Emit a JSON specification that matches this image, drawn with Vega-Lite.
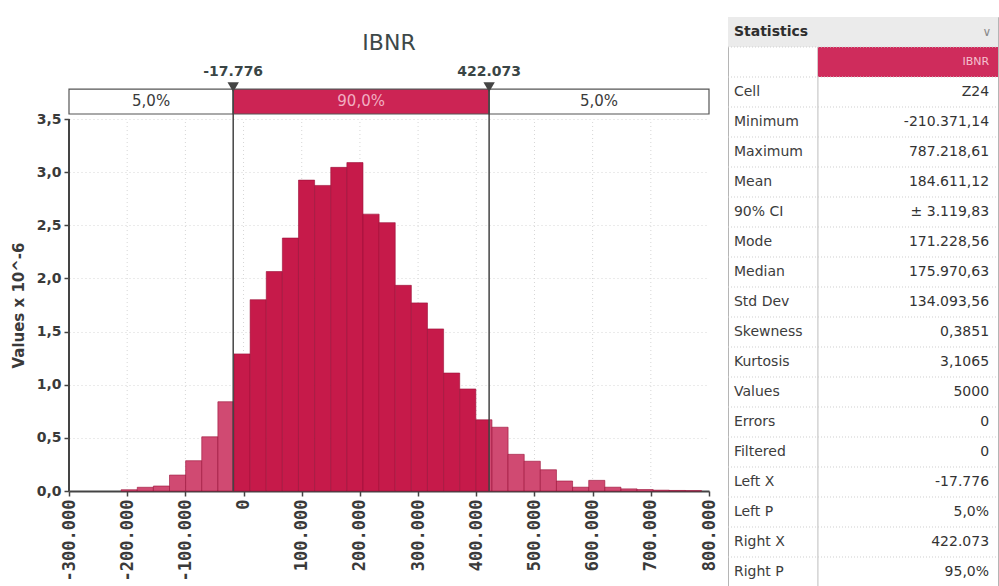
{
  "$schema": "https://vega.github.io/schema/vega-lite/v6.json",
  "padding": {"left": 11, "top": 16, "right": 2, "bottom": 0},
  "spacing": 10,
  "config": {
    "view": {"stroke": null},
    "font": "DejaVu Sans",
    "locale": {"number": {"decimal": ",", "thousands": ".", "grouping": [3], "currency": ["", " €"], "minus": "-"}}
  },
  "hconcat": [
    {
      "width": 640,
      "height": 474,
      "layer": [
        {
          "data": {"values": [{"g": -200000}, {"g": -100000}, {"g": 0}, {"g": 100000}, {"g": 200000}, {"g": 300000}, {"g": 400000}, {"g": 500000}, {"g": 600000}, {"g": 700000}]},
          "mark": {"type": "rule", "color": "#d6d6d6", "strokeDash": [1, 3], "strokeWidth": 1},
          "encoding": {
            "x": {
              "field": "g", "type": "quantitative",
              "scale": {"domain": [-300000, 800000], "nice": false, "zero": false},
              "axis": {
                "values": [-300000, -200000, -100000, 0, 100000, 200000, 300000, 400000, 500000, 600000, 700000, 800000],
                "format": ",.0f", "labelAngle": -90, "labelFont": "DejaVu Sans Mono", "labelFontWeight": "bold",
                "labelFontSize": 17, "labelColor": "#3a3a3a", "labelPadding": 3, "labelOverlap": false,
                "labelFlush": false, "labelBound": false,
                "tickSize": 5, "tickColor": "#444444", "tickWidth": 1.5,
                "domainColor": "#444444", "domainWidth": 2, "grid": false, "title": null
              }
            },
            "y": {
              "datum": 0, "type": "quantitative",
              "scale": {"domain": [0, 4.4597], "nice": false, "zero": true},
              "axis": {
                "values": [0, 0.5, 1, 1.5, 2, 2.5, 3, 3.5], "format": ".1f",
                "labelFont": "DejaVu Sans", "labelFontWeight": "bold", "labelFontSize": 14, "labelColor": "#3a3a3a",
                "labelPadding": 3, "tickSize": 5, "tickColor": "#444444", "tickWidth": 1.5, "domain": false,
                "grid": true, "gridColor": "#d6d6d6", "gridDash": [1, 3],
                "title": "Values x 10^-6", "titleFont": "DejaVu Sans", "titleFontSize": 15, "titleFontWeight": "bold",
                "titleColor": "#3a3a3a", "titleX": -43, "titleY": 288
              }
            },
            "y2": {"datum": 3.5}
          }
        },
        {
          "data": {"values": [
            {"x0": -210371, "x1": -182660, "v": 0.012, "zone": "out"},
            {"x0": -182660, "x1": -154949, "v": 0.035, "zone": "out"},
            {"x0": -154949, "x1": -127239, "v": 0.047, "zone": "out"},
            {"x0": -127239, "x1": -99528, "v": 0.15, "zone": "out"},
            {"x0": -99528, "x1": -71817, "v": 0.285, "zone": "out"},
            {"x0": -71817, "x1": -44106, "v": 0.51, "zone": "out"},
            {"x0": -44106, "x1": -17776, "v": 0.84, "zone": "out"},
            {"x0": -17776, "x1": -16396, "v": 0.84, "zone": "in"},
            {"x0": -16396, "x1": 11315, "v": 1.29, "zone": "in"},
            {"x0": 11315, "x1": 39026, "v": 1.80, "zone": "in"},
            {"x0": 39026, "x1": 66737, "v": 2.065, "zone": "in"},
            {"x0": 66737, "x1": 94448, "v": 2.38, "zone": "in"},
            {"x0": 94448, "x1": 122159, "v": 2.925, "zone": "in"},
            {"x0": 122159, "x1": 149869, "v": 2.875, "zone": "in"},
            {"x0": 149869, "x1": 177580, "v": 3.045, "zone": "in"},
            {"x0": 177580, "x1": 205291, "v": 3.09, "zone": "in"},
            {"x0": 205291, "x1": 233002, "v": 2.605, "zone": "in"},
            {"x0": 233002, "x1": 260713, "v": 2.525, "zone": "in"},
            {"x0": 260713, "x1": 288424, "v": 1.935, "zone": "in"},
            {"x0": 288424, "x1": 316134, "v": 1.77, "zone": "in"},
            {"x0": 316134, "x1": 343845, "v": 1.525, "zone": "in"},
            {"x0": 343845, "x1": 371556, "v": 1.11, "zone": "in"},
            {"x0": 371556, "x1": 399267, "v": 0.96, "zone": "in"},
            {"x0": 399267, "x1": 422073, "v": 0.67, "zone": "in"},
            {"x0": 422073, "x1": 426978, "v": 0.67, "zone": "out"},
            {"x0": 426978, "x1": 454689, "v": 0.60, "zone": "out"},
            {"x0": 454689, "x1": 482399, "v": 0.345, "zone": "out"},
            {"x0": 482399, "x1": 510110, "v": 0.28, "zone": "out"},
            {"x0": 510110, "x1": 537821, "v": 0.20, "zone": "out"},
            {"x0": 537821, "x1": 565532, "v": 0.094, "zone": "out"},
            {"x0": 565532, "x1": 593243, "v": 0.036, "zone": "out"},
            {"x0": 593243, "x1": 620954, "v": 0.10, "zone": "out"},
            {"x0": 620954, "x1": 648664, "v": 0.036, "zone": "out"},
            {"x0": 648664, "x1": 676375, "v": 0.02, "zone": "out"},
            {"x0": 676375, "x1": 704086, "v": 0.014, "zone": "out"},
            {"x0": 704086, "x1": 731797, "v": 0.008, "zone": "out"},
            {"x0": 731797, "x1": 759508, "v": 0.005, "zone": "out"},
            {"x0": 759508, "x1": 787219, "v": 0.003, "zone": "out"}
          ]},
          "mark": {"type": "rect", "stroke": "#9a0f37", "strokeWidth": 0.6},
          "encoding": {
            "x": {"field": "x0", "type": "quantitative"},
            "x2": {"field": "x1"},
            "y": {"field": "v", "type": "quantitative"},
            "y2": {"datum": 0},
            "fill": {"field": "zone", "type": "nominal", "scale": {"domain": ["in", "out"], "range": ["#c61a4a", "#d04a72"]}, "legend": null}
          }
        },
        {
          "data": {"values": [{"axis": "y"}]},
          "mark": {"type": "rule", "color": "#444444", "strokeWidth": 2},
          "encoding": {
            "x": {"datum": -300000, "type": "quantitative"},
            "y": {"datum": 0, "type": "quantitative"},
            "y2": {"datum": 3.5}
          }
        },
        {
          "data": {"values": [
            {"x0": -300000, "x1": -17776, "mid": -158888, "pct": "5,0%", "seg": "out"},
            {"x0": -17776, "x1": 422073, "mid": 202148, "pct": "90,0%", "seg": "in"},
            {"x0": 422073, "x1": 800000, "mid": 611036, "pct": "5,0%", "seg": "out"}
          ]},
          "layer": [
            {
              "mark": {"type": "rect", "stroke": "#555555", "strokeWidth": 1.2},
              "encoding": {
                "x": {"field": "x0", "type": "quantitative"},
                "x2": {"field": "x1"},
                "y": {"datum": 3.547, "type": "quantitative"},
                "y2": {"datum": 3.782},
                "fill": {"condition": {"test": "datum.seg === 'in'", "value": "#cc2454"}, "value": "#ffffff"}
              }
            },
            {
              "mark": {"type": "text", "fontSize": 15, "baseline": "middle", "align": "center"},
              "encoding": {
                "x": {"field": "mid", "type": "quantitative"},
                "y": {"datum": 3.665, "type": "quantitative"},
                "text": {"field": "pct", "type": "nominal"},
                "fill": {"condition": {"test": "datum.seg === 'in'", "value": "#f2aec2"}, "value": "#3a3a3a"}
              }
            }
          ]
        },
        {
          "data": {"values": [{"cx": -17776}, {"cx": 422073}]},
          "layer": [
            {
              "mark": {"type": "rule", "color": "#444444", "strokeWidth": 1.5},
              "encoding": {
                "x": {"field": "cx", "type": "quantitative"},
                "y": {"datum": 0, "type": "quantitative"},
                "y2": {"datum": 3.782}
              }
            },
            {
              "mark": {"type": "point", "shape": "triangle-down", "filled": true, "color": "#444444", "size": 130, "opacity": 1},
              "encoding": {
                "x": {"field": "cx", "type": "quantitative"},
                "y": {"datum": 3.80, "type": "quantitative"}
              }
            },
            {
              "mark": {"type": "text", "fontSize": 14, "fontWeight": "bold", "color": "#3a4545", "baseline": "middle", "align": "center"},
              "encoding": {
                "x": {"field": "cx", "type": "quantitative"},
                "y": {"datum": 3.942, "type": "quantitative"},
                "text": {"field": "cx", "type": "quantitative", "format": ",.0f"}
              }
            }
          ]
        },
        {
          "data": {"values": [{"t": "IBNR"}]},
          "mark": {"type": "text", "fontSize": 22, "color": "#3d4848", "baseline": "middle", "align": "center"},
          "encoding": {
            "x": {"datum": 250000, "type": "quantitative"},
            "y": {"datum": 4.215, "type": "quantitative"},
            "text": {"field": "t", "type": "nominal"}
          }
        }
      ]
    },
    {
      "width": 270,
      "height": 570,
      "view": {"stroke": "#b5b5b5", "strokeWidth": 1},
      "data": {"values": [
        {"stat": "Statistics", "label": "Statistics", "value": "∨", "kind": "head"},
        {"stat": "Name", "label": "", "value": "IBNR", "kind": "name"},
        {"stat": "Cell", "label": "Cell", "value": "Z24", "kind": "row"},
        {"stat": "Minimum", "label": "Minimum", "value": "-210.371,14", "kind": "row"},
        {"stat": "Maximum", "label": "Maximum", "value": "787.218,61", "kind": "row"},
        {"stat": "Mean", "label": "Mean", "value": "184.611,12", "kind": "row"},
        {"stat": "90% CI", "label": "  90% CI", "value": "± 3.119,83", "kind": "row"},
        {"stat": "Mode", "label": "Mode", "value": "171.228,56", "kind": "row"},
        {"stat": "Median", "label": "Median", "value": "175.970,63", "kind": "row"},
        {"stat": "Std Dev", "label": "Std Dev", "value": "134.093,56", "kind": "row"},
        {"stat": "Skewness", "label": "Skewness", "value": "0,3851", "kind": "row"},
        {"stat": "Kurtosis", "label": "Kurtosis", "value": "3,1065", "kind": "row"},
        {"stat": "Values", "label": "Values", "value": "5000", "kind": "row"},
        {"stat": "Errors", "label": "Errors", "value": "0", "kind": "row"},
        {"stat": "Filtered", "label": "Filtered", "value": "0", "kind": "row"},
        {"stat": "Left X", "label": "Left X", "value": "-17.776", "kind": "row"},
        {"stat": "Left P", "label": "Left P", "value": "5,0%", "kind": "row"},
        {"stat": "Right X", "label": "Right X", "value": "422.073", "kind": "row"},
        {"stat": "Right P", "label": "Right P", "value": "95,0%", "kind": "row"}
      ]},
      "layer": [
        {
          "transform": [{"filter": "datum.kind === 'head'"}],
          "mark": {"type": "rule", "color": "#bdbdbd", "strokeWidth": 1},
          "encoding": {
            "x": {"datum": 0.333, "type": "quantitative", "scale": {"domain": [0, 1], "nice": false, "zero": false}, "axis": null}
          }
        },
        {
          "transform": [{"filter": "datum.kind === 'head'"}],
          "mark": {"type": "rect", "fill": "#ebebeb"},
          "encoding": {
            "x": {"datum": 0, "type": "quantitative", "axis": null},
            "x2": {"datum": 1},
            "y": {"field": "stat", "type": "nominal", "sort": null, "axis": null,
                  "scale": {"domain": ["Statistics", "Name", "Cell", "Minimum", "Maximum", "Mean", "90% CI", "Mode", "Median", "Std Dev", "Skewness", "Kurtosis", "Values", "Errors", "Filtered", "Left X", "Left P", "Right X", "Right P"], "paddingInner": 0, "paddingOuter": 0}}
          }
        },
        {
          "transform": [{"filter": "datum.kind === 'name'"}],
          "mark": {"type": "rect", "fill": "#cf2c5c"},
          "encoding": {
            "x": {"datum": 0.333, "type": "quantitative", "axis": null},
            "x2": {"datum": 1},
            "y": {"field": "stat", "type": "nominal", "sort": null, "axis": null}
          }
        },
        {
          "transform": [{"filter": "datum.kind !== 'head'"}],
          "mark": {"type": "rule", "color": "#cfcfcf", "strokeDash": [1, 2], "strokeWidth": 1},
          "encoding": {
            "x": {"datum": 0, "type": "quantitative", "axis": null},
            "x2": {"datum": 1},
            "y": {"field": "stat", "type": "nominal", "sort": null, "axis": null, "bandPosition": 0}
          }
        },
        {
          "transform": [{"filter": "datum.kind === 'row'"}],
          "mark": {"type": "text", "align": "left", "baseline": "middle", "fontSize": 14, "color": "#3c3c3c"},
          "encoding": {
            "x": {"datum": 0.022, "type": "quantitative", "axis": null},
            "y": {"field": "stat", "type": "nominal", "sort": null, "axis": null},
            "text": {"field": "label", "type": "nominal"}
          }
        },
        {
          "transform": [{"filter": "datum.kind === 'row'"}],
          "mark": {"type": "text", "align": "right", "baseline": "middle", "fontSize": 14, "color": "#333333"},
          "encoding": {
            "x": {"datum": 0.967, "type": "quantitative", "axis": null},
            "y": {"field": "stat", "type": "nominal", "sort": null, "axis": null},
            "text": {"field": "value", "type": "nominal"}
          }
        },
        {
          "transform": [{"filter": "datum.kind === 'head'"}],
          "mark": {"type": "text", "align": "left", "baseline": "middle", "fontSize": 14, "fontWeight": "bold", "color": "#2e2e2e"},
          "encoding": {
            "x": {"datum": 0.022, "type": "quantitative", "axis": null},
            "y": {"field": "stat", "type": "nominal", "sort": null, "axis": null},
            "text": {"field": "label", "type": "nominal"}
          }
        },
        {
          "transform": [{"filter": "datum.kind === 'head'"}],
          "mark": {"type": "text", "align": "right", "baseline": "middle", "fontSize": 12, "color": "#8a8a8a"},
          "encoding": {
            "x": {"datum": 0.975, "type": "quantitative", "axis": null},
            "y": {"field": "stat", "type": "nominal", "sort": null, "axis": null},
            "text": {"field": "value", "type": "nominal"}
          }
        },
        {
          "transform": [{"filter": "datum.kind === 'name'"}],
          "mark": {"type": "text", "align": "right", "baseline": "middle", "fontSize": 11, "color": "#f5c2d0"},
          "encoding": {
            "x": {"datum": 0.967, "type": "quantitative", "axis": null},
            "y": {"field": "stat", "type": "nominal", "sort": null, "axis": null},
            "text": {"field": "value", "type": "nominal"}
          }
        }
      ]
    }
  ]
}
